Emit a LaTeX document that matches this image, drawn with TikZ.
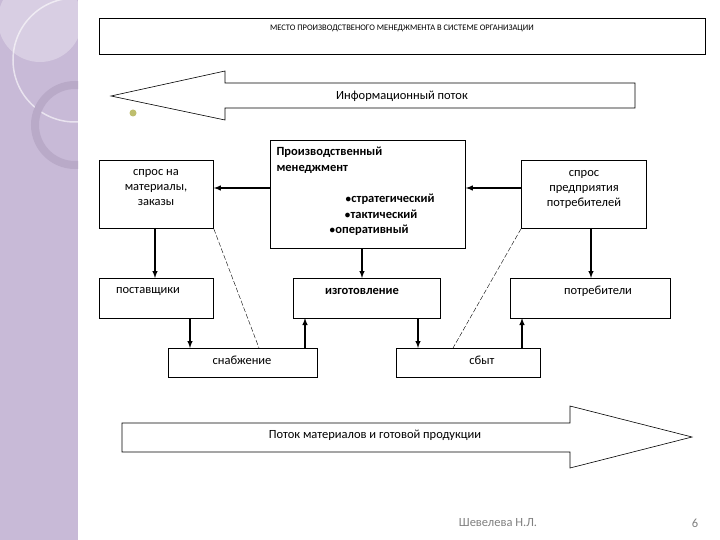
\documentclass[tikz,border=0pt]{standalone}
\usepackage{fontspec}
\setmainfont{Carlito}
\begin{document}
\begin{tikzpicture}[x=1pt,y=-1pt,
 bx/.style={draw,line width=0.8pt,fill=white},
 ar/.style={line width=1.4pt,-latex},
 ds/.style={dashed,line width=0.4pt,dash pattern=on 5pt off 2pt},
 t/.style={font=\fontsize{12.5}{15}\selectfont,align=center}]
\useasboundingbox (0,0) rectangle (720,540);
\fill[white] (0,0) rectangle (720,540);
\fill[color={rgb,255:red,200;green,186;blue,215}] (0,0) rectangle (78,540);
\begin{scope}
\clip (0,0) rectangle (78,540);
\draw[white,opacity=0.6,line width=1.5pt] (75,60) circle (62);
\fill[white,opacity=0.3] (40,20) circle (42);
\draw[color={rgb,255:red,185;green,170;blue,200},line width=8pt] (75,125) circle (40);
\end{scope}
\node[bx,minimum width=606,minimum height=36,anchor=north west] (title) at (99,18) {};
\node[font=\fontsize{8.5}{10}\selectfont] (tt) at (402,28) {МЕСТО ПРОИЗВОДСТВЕНОГО МЕНЕДЖМЕНТА В СИСТЕМЕ ОРГАНИЗАЦИИ};
\draw[line width=0.6pt] (111,96) -- (225,71) -- (225,83) -- (635,83) -- (635,108) -- (225,108) -- (225,120) -- cycle;
\node[t] (info) at (402,96) {Информационный поток};
\fill[color={rgb,255:red,190;green,190;blue,110}] (133,113) circle (3.5);
\node[bx,minimum width=195,minimum height=108,anchor=north west] (prod) at (270,140) {};
\node[t,font=\fontsize{12.5}{16}\selectfont\bfseries,align=left,anchor=north west] (pt) at (273,143) {Производственный\\менеджмент};
\node[t,font=\fontsize{12.5}{16}\selectfont\bfseries] (b1) at (390,199) {$\bullet$стратегический};
\node[t,font=\fontsize{12.5}{16}\selectfont\bfseries] (b2) at (381,214) {$\bullet$тактический};
\node[t,font=\fontsize{12.5}{16}\selectfont\bfseries] (b3) at (369,230) {$\bullet$оперативный};
\node[bx,t,minimum width=114,minimum height=68,anchor=north west] (sl) at (99,160) {};
\node[t] (slt) at (156,188) {спрос на\\материалы,\\заказы};
\node[bx,minimum width=125,minimum height=68,anchor=north west] (sr) at (521,160) {};
\node[t] (srt) at (584,189) {спрос\\предприятия\\потребителей};
\node[bx,minimum width=114,minimum height=40,anchor=north west] (post) at (99,278) {};
\node[t] (postt) at (148,291) {поставщики};
\node[bx,minimum width=147,minimum height=40,anchor=north west] (izg) at (293,278) {};
\node[t,font=\fontsize{12.5}{15}\selectfont\bfseries] (izgt) at (362,291) {изготовление};
\node[bx,minimum width=160,minimum height=40,anchor=north west] (potr) at (510,278) {};
\node[t] (potrt) at (598,291) {потребители};
\node[bx,minimum width=149,minimum height=29,anchor=north west] (snab) at (168,348) {};
\node[t] (snabt) at (242,360) {снабжение};
\node[bx,minimum width=144,minimum height=29,anchor=north west] (sbyt) at (396,348) {};
\node[t] (sbytt) at (482,360) {сбыт};
\draw[ar] (prod.west|-0,188) -- (sl.east|-0,188);
\draw[ar] (sr.west|-0,188) -- (prod.east|-0,188);
\draw[ar] (155,228) -- (155,278);
\draw[ar] (591,228) -- (591,278);
\draw[ar] (362,248) -- (362,278);
\draw[ar] (190,318) -- (190,348);
\draw[ar] (305,348) -- (305,318);
\draw[ar] (418,318) -- (418,348);
\draw[ar] (522,348) -- (522,318);
\draw[ds] (sl.south east) -- (259,348);
\draw[ds] (sr.south west) -- (453,348);
\draw[line width=0.6pt] (122,423) -- (570,423) -- (570,406) -- (692,437) -- (570,468) -- (570,452) -- (122,452) -- cycle;
\node[t] (flow) at (375,435) {Поток материалов и готовой продукции};
\node[t,text=gray] (auth) at (498,523) {Шевелева Н.Л.};
\node[t,text=gray] (num) at (695,523) {6};
\end{tikzpicture}
\end{document}
